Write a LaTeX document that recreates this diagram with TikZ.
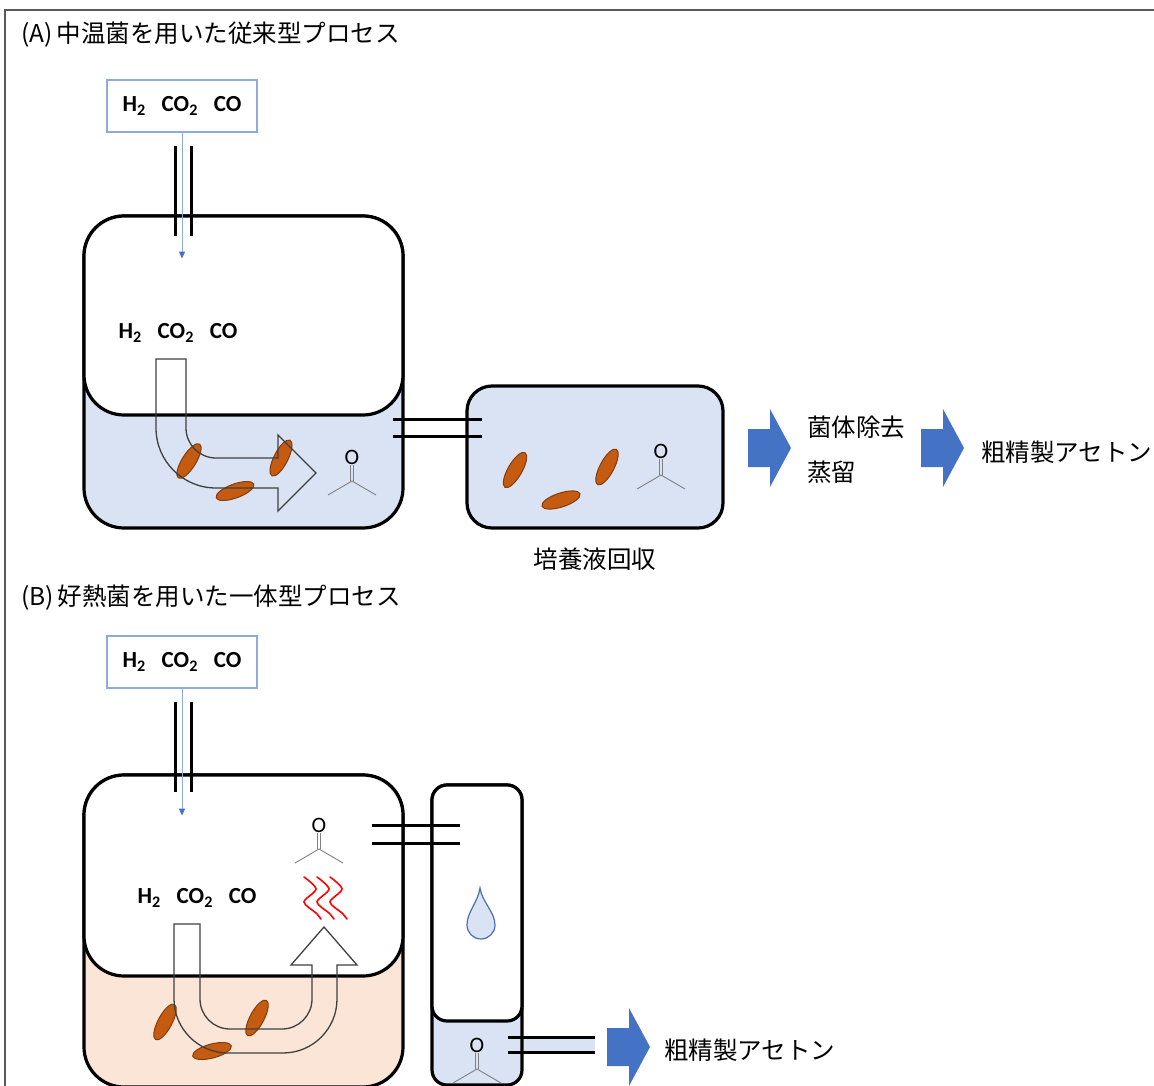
\documentclass[tikz,border=0pt]{standalone}
\usepackage{fontspec}
\usepackage{tikz}
\usetikzlibrary{arrows.meta, positioning, calc, shapes.geometric}
\newfontfamily\jpfont{Noto Sans CJK JP}
\newfontfamily\gasfont{Carlito}
\definecolor{liqc}{HTML}{DAE3F3}
\definecolor{hotc}{HTML}{FBE5D6}
\definecolor{cellc}{HTML}{C55A11}
\definecolor{celld}{HTML}{843C0C}
\definecolor{flowc}{HTML}{4472C4}
\definecolor{gasc}{HTML}{8FAADC}
\definecolor{dropc}{HTML}{4A6FAF}
\newcommand{\gases}{H\textsubscript{2}\hspace{16pt}CO\textsubscript{2}\hspace{16pt}CO}
\newcommand{\tank}[5]{% name, top-left, fill, height, headspace
  \node[vessel, fill=#3, minimum width=319pt, minimum height=#4] (#1) at #2 {};
  \node[vessel, fill=white, minimum width=319pt, minimum height=#5] (#1h) at #2 {};
}
\newcommand{\acetone}[2]{%
  \node[oatom] (#1) at #2 {O};
  \draw[bond] ($#2+(-1.2,-8)$) -- ($#2+(-1.2,-24)$) ($#2+(1.2,-8)$) -- ($#2+(1.2,-24)$);
  \draw[bond] ($#2+(-24,-38)$) -- ($#2+(0,-24)$) -- ($#2+(24,-38)$);
}
\newcommand{\flowarrow}[2]{%
  \coordinate (#1) at #2;
  \fill[flowc] (#1) ++(0,19) -- ++(22,0) -- ++(0,20) -- ++(21,-39)
    -- ++(-21,-39) -- ++(0,20) -- ++(-22,0) -- cycle;
}

\begin{document}
\begin{tikzpicture}[x=1pt, y=1pt,
    vessel/.style={draw, line width=3.2pt, rounded corners=40pt, inner sep=0pt,
      outer sep=0pt, anchor=north west},
    gasbox/.style={draw=gasc, line width=1.2pt, minimum width=150pt,
      minimum height=52pt, inner sep=0pt, font=\gasfont\bfseries\fontsize{23}{26}\selectfont},
    gaslbl/.style={inner sep=0pt, font=\gasfont\bfseries\fontsize{23}{26}\selectfont},
    jp/.style={inner sep=1pt, font=\jpfont\fontsize{24.5}{28}\selectfont},
    feed/.style={gasc, line width=1pt, -{Triangle[length=7pt, width=6pt, color=flowc]}},
    pipe/.style={line width=3pt},
    cell/.style={ellipse, draw=celld, fill=cellc, line width=1pt,
      minimum width=40pt, minimum height=14pt, inner sep=0pt},
    flowline/.style={draw=black!75, line width=1.3pt},
    bond/.style={black!50, line width=0.9pt},
    oatom/.style={inner sep=0pt, font=\gasfont\fontsize{22}{22}\selectfont},
    heat/.style={red, line width=1.6pt, line cap=round},
    drop/.style={draw=dropc, fill=liqc, line width=1.2pt}]
  \useasboundingbox (0,0) rectangle (1154,-1086);
  \draw[black!65, line width=1.3pt] (1154,-10) -- (5,-10) -- (5,-1086);

  % (A) conventional process
  \node[jp, anchor=west] (titleA) at (20,-35) {(A)\,中温菌を用いた従来型プロセス};
  \node[gasbox] (gasA) at (182,-106) {\gases};
  \tank{tankA}{(84,-216)}{liqc}{312pt}{199pt}
  \foreach \dx in {-7,9}
    \draw[pipe] ([shift={(\dx,-13)}]gasA.south) -- ++(0,-90);
  \draw[feed] (gasA.south) -- ++(0,-126);
  \node[gaslbl] (gasinA) at (178,-333) {\gases};
  \foreach \n/\p/\a in {1/{(189,-461)}/58, 2/{(281,-458)}/63, 3/{(235,-491)}/20}
    \node[cell, rotate=\a] (cA\n) at \p {};
  \draw[flowline] (156,-359) -- (186,-359) -- (186,-428)
    arc[start angle=180, end angle=270, radius=30] -- (278,-458) -- (278,-435)
    -- (316,-473) -- (278,-511) -- (278,-488) -- (216,-488)
    arc[start angle=270, end angle=180, radius=60] -- cycle;
  \acetone{acA}{(352,-457)}

  \node[vessel, rounded corners=25pt, fill=liqc, minimum width=256pt,
    minimum height=142pt] (recv) at (467,-386) {};
  \foreach \dy in {-47,-64}
    \draw[pipe] ([shift={(-10,\dy)}]tankA.east) -- ++(89,0);
  \foreach \n/\p/\a in {1/{(515,-470)}/60, 2/{(561,-500)}/18, 3/{(607,-467)}/62}
    \node[cell, rotate=\a] (cR\n) at \p {};
  \acetone{acR}{(661,-451)}
  \node[jp, below=19pt of recv] (harvest) {培養液回収};

  \flowarrow{fa1}{(748,-448)}
  \node[jp, anchor=west] (removal) at (806,-427) {菌体除去};
  \node[jp, anchor=west] (distil) at (806,-472) {蒸留};
  \flowarrow{fa2}{(921,-448)}
  \node[jp, anchor=west] (prodA) at (980,-452) {粗精製アセトン};

  % (B) integrated process
  \node[jp, anchor=west] (titleB) at (20,-598) {(B)\,好熱菌を用いた一体型プロセス};
  \node[gasbox] (gasB) at (182,-662) {\gases};
  \tank{tankB}{(84,-775)}{hotc}{312pt}{201pt}
  \foreach \dx in {-7,9}
    \draw[pipe] ([shift={(\dx,-13)}]gasB.south) -- ++(0,-90);
  \draw[feed] (gasB.south) -- ++(0,-127);
  \node[gaslbl] (gasinB) at (197,-898) {\gases};
  \foreach \n/\p/\a in {1/{(165,-1022)}/62, 2/{(257,-1018)}/62, 3/{(212,-1051)}/15}
    \node[cell, rotate=\a] (cB\n) at \p {};
  \draw[flowline] (174,-924) -- (200,-924) -- (200,-999)
    arc[start angle=180, end angle=270, radius=30] -- (282,-1029)
    arc[start angle=270, end angle=360, radius=30] -- (312,-965)
    -- (291,-965) -- (324,-927) -- (357,-965) -- (337,-965) -- (337,-999)
    arc[start angle=0, end angle=-90, radius=54] -- (228,-1053)
    arc[start angle=270, end angle=180, radius=54] -- cycle;
  \foreach \dx in {0,13,26}
    \draw[heat] plot[smooth, tension=0.5] coordinates
      {({304+\dx},-877) ({316+\dx},-889) ({304+\dx},-902) ({316+\dx},-913) ({321+\dx},-919)};
  \acetone{acB}{(319,-825)}

  \node[vessel, rounded corners=15pt, fill=liqc, minimum width=90pt,
    minimum height=300pt] (col) at (432,-785) {};
  \node[vessel, rounded corners=15pt, fill=white, minimum width=90pt,
    minimum height=236pt] (colh) at (432,-785) {};
  \foreach \dy in {-50,-68}
    \draw[pipe] ([shift={(-31,\dy)}]tankBh.north east) -- ++(88,0);
  \draw[drop] (480,-888) .. controls (482,-902) and (495,-912) .. (495,-925)
    arc[start angle=0, end angle=-180, radius=14]
    .. controls (467,-912) and (478,-902) .. (480,-888) -- cycle;
  \acetone{acC}{(477,-1045)}
  \fill[liqc] ([shift={(2,-102)}]col.east) rectangle ([shift={(73,-117)}]col.east);
  \foreach \dy in {-102,-117}
    \draw[pipe] ([shift={(-14,\dy)}]col.east) -- ++(87,0);
  \flowarrow{fa3}{(607,-1047)}
  \node[jp, anchor=west] (prodB) at (663,-1050) {粗精製アセトン};
\end{tikzpicture}
\end{document}
